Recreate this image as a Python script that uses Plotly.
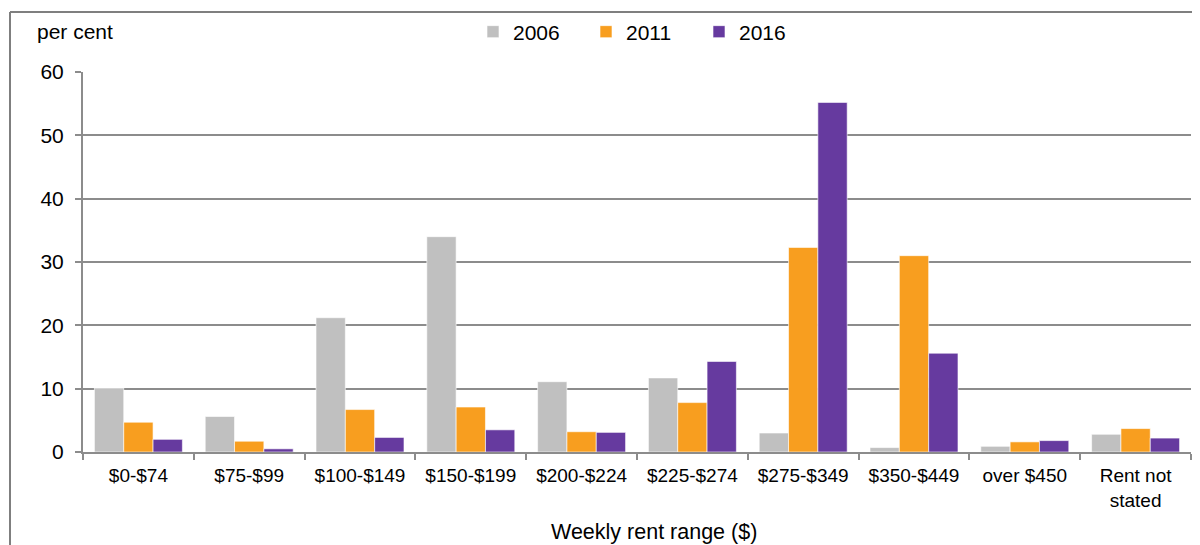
import plotly.graph_objects as go

categories = ["$0-$74", "$75-$99", "$100-$149", "$150-$199", "$200-$224",
              "$225-$274", "$275-$349", "$350-$449", "over $450", "Rent not<br>stated"]
y2006 = [10.1, 5.6, 21.2, 34.0, 11.1, 11.7, 3.0, 0.7, 0.9, 2.8]
y2011 = [4.7, 1.7, 6.7, 7.1, 3.2, 7.8, 32.3, 31.0, 1.6, 3.7]
y2016 = [2.0, 0.5, 2.3, 3.5, 3.1, 14.3, 55.2, 15.6, 1.8, 2.2]

FONT = "Liberation Sans, Arial, sans-serif"
GRID = "#8c8c8c"

# page body has an 8px margin, so the figure is drawn 8px in from the top-left
W, H = 1192, 537
L, T, R, B = 75, 64, 9, 93
PW, PH = W - L - R, H - T - B

def px(x):  # figure pixel -> paper x
    return (x - L) / PW

def py(y):  # figure pixel -> paper y
    return 1 - (y - T) / PH

fig = go.Figure()
for name, vals, col in [("2006", y2006, "#c0c0c0"),
                        ("2011", y2011, "#f89e1f"),
                        ("2016", y2016, "#663a9f")]:
    fig.add_trace(go.Bar(x=categories, y=vals, name=name,
                         marker=dict(color=col, line=dict(color="rgba(255,255,255,0.6)", width=1))))

fig.update_layout(
    width=W, height=H,
    margin=dict(l=L, r=R, t=T, b=B, autoexpand=False),
    paper_bgcolor="white", plot_bgcolor="white",
    font=dict(family=FONT, size=19, color="black"),
    barmode="group", bargap=0.206, bargroupgap=0,
    legend=dict(orientation="h", x=px(465), xanchor="left", y=py(24), yanchor="middle",
                font=dict(size=21), bgcolor="rgba(0,0,0,0)",
                entrywidth=68, entrywidthmode="pixels", tracegroupgap=0),
    xaxis=dict(showline=True, linecolor=GRID, linewidth=2, ticks="outside",
               tickson="boundaries", ticklen=6, tickcolor=GRID, tickwidth=2,
               ticklabelstandoff=5, tickfont=dict(size=19)),
    yaxis=dict(range=[0, 60], dtick=10, showgrid=True, gridcolor=GRID, gridwidth=2,
               showline=True, linecolor=GRID, linewidth=2, ticks="outside",
               ticklen=6, tickcolor=GRID, tickwidth=2, zeroline=False,
               ticklabelstandoff=7, tickfont=dict(size=21)),
    shapes=[dict(type="line", xref="paper", yref="paper",
                 x0=px(2), x1=px(1200), y0=py(4), y1=py(4),
                 line=dict(color="#7f7f7f", width=2)),
            dict(type="line", xref="paper", yref="paper",
                 x0=px(2), x1=px(2), y0=py(4), y1=py(560),
                 line=dict(color="#7f7f7f", width=2))],
    annotations=[dict(text="per cent", xref="paper", yref="paper",
                      x=px(27), y=py(23), xanchor="left", yanchor="middle",
                      showarrow=False, font=dict(size=21)),
                 dict(text="Weekly rent range ($)", xref="paper", yref="paper",
                      x=px(646), y=py(524), xanchor="center", yanchor="middle",
                      showarrow=False, font=dict(size=21.5))],
)

fig.write_html("out.html")
